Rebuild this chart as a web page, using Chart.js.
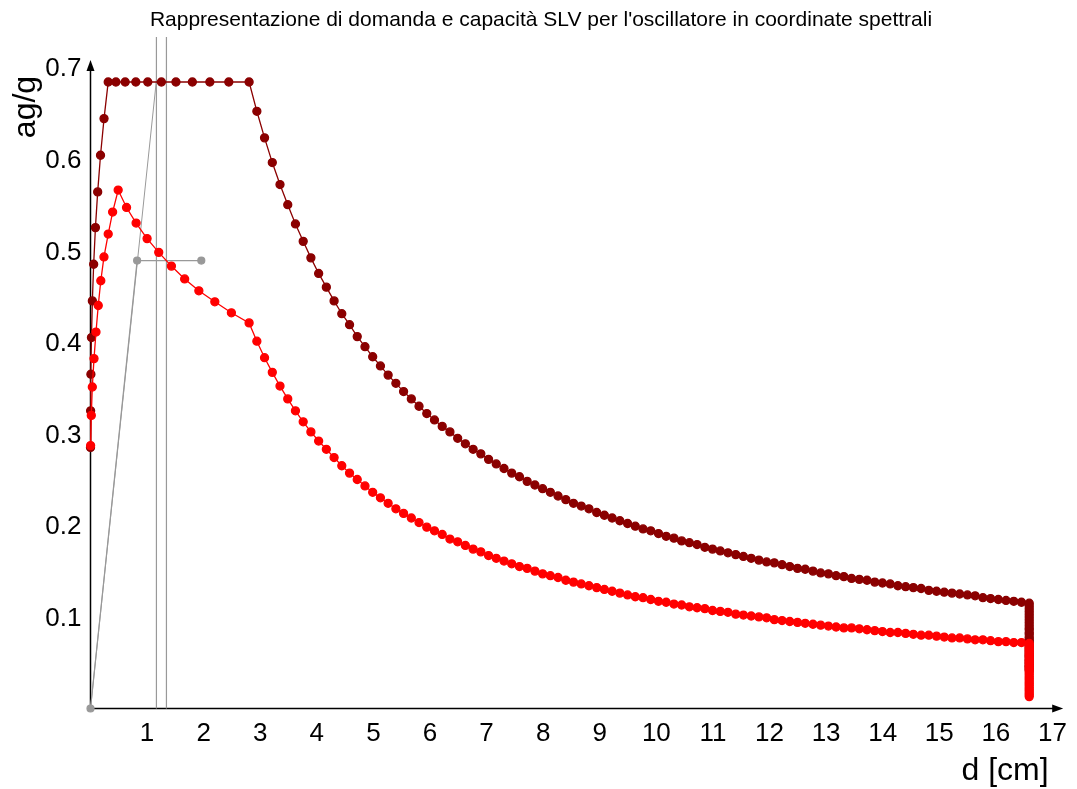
<!DOCTYPE html>
<html>
<head>
<meta charset="utf-8">
<script src="https://cdn.jsdelivr.net/npm/chart.js@4.4.1/dist/chart.umd.min.js"></script>
<style>
  html, body { margin: 0; padding: 0; background: #fff; }
  #wrap { width: 1077px; height: 789px; }
</style>
</head>
<body>
<div id="wrap"><canvas id="spettro" width="1077" height="789"></canvas></div>
<script>
// spettro elastico: ramo iniziale e plateau
var dElasticoIniz = [0.000, 0.002, 0.007, 0.017, 0.033, 0.056, 0.087, 0.127, 0.177, 0.239, 0.313,
  0.449, 0.613, 0.801, 1.012, 1.253, 1.510, 1.800, 2.109, 2.444, 2.803];
var aElasticoIniz = [0.285, 0.325, 0.365, 0.405, 0.445, 0.485, 0.525, 0.564, 0.604, 0.644, 0.684,
  0.684, 0.684, 0.684, 0.684, 0.684, 0.684, 0.684, 0.684, 0.684, 0.684];

// spettro ridotto: ramo iniziale
var dRidottoIniz = [0.002, 0.014, 0.032, 0.062, 0.097, 0.137, 0.182, 0.238, 0.313, 0.391, 0.489,
  0.637, 0.806, 1.000, 1.206, 1.430, 1.664, 1.915, 2.197, 2.490, 2.803];
var aRidottoIniz = [0.287, 0.320, 0.351, 0.382, 0.411, 0.440, 0.467, 0.493, 0.518, 0.542, 0.566,
  0.547, 0.530, 0.513, 0.498, 0.483, 0.469, 0.456, 0.444, 0.432, 0.421];

// tratto a velocita' costante (ascisse comuni ai due spettri)
var dTratto = [2.940, 3.076, 3.213, 3.349, 3.486, 3.622, 3.759, 3.895, 4.032, 4.168,
  4.305, 4.441, 4.578, 4.714, 4.851, 4.987, 5.124, 5.260, 5.397, 5.533,
  5.670, 5.806, 5.943, 6.079, 6.216, 6.352, 6.489, 6.625, 6.762, 6.898,
  7.035, 7.171, 7.308, 7.444, 7.581, 7.717, 7.854, 7.990, 8.127, 8.263,
  8.400, 8.536, 8.673, 8.809, 8.946, 9.082, 9.219, 9.355, 9.492, 9.628,
  9.765, 9.901, 10.038, 10.174, 10.311, 10.447, 10.584, 10.720, 10.857, 10.993,
  11.130, 11.266, 11.403, 11.539, 11.676, 11.812, 11.949, 12.085, 12.222, 12.358,
  12.495, 12.631, 12.768, 12.904, 13.041, 13.177, 13.314, 13.450, 13.587, 13.723,
  13.860, 13.996, 14.133, 14.269, 14.406, 14.542, 14.679, 14.815, 14.952, 15.088,
  15.225, 15.361, 15.498, 15.634, 15.771, 15.907, 16.044, 16.180, 16.317, 16.453,
  16.590];
var aElasticoTratto = [0.652, 0.623, 0.596, 0.572, 0.550, 0.529, 0.510, 0.492, 0.475, 0.460,
  0.445, 0.431, 0.419, 0.406, 0.395, 0.384, 0.374, 0.364, 0.355, 0.346,
  0.338, 0.330, 0.322, 0.315, 0.308, 0.302, 0.295, 0.289, 0.283, 0.278,
  0.272, 0.267, 0.262, 0.257, 0.253, 0.248, 0.244, 0.240, 0.236, 0.232,
  0.228, 0.224, 0.221, 0.218, 0.214, 0.211, 0.208, 0.205, 0.202, 0.199,
  0.196, 0.194, 0.191, 0.188, 0.186, 0.183, 0.181, 0.179, 0.176, 0.174,
  0.172, 0.170, 0.168, 0.166, 0.164, 0.162, 0.160, 0.159, 0.157, 0.155,
  0.153, 0.152, 0.150, 0.148, 0.147, 0.145, 0.144, 0.142, 0.141, 0.140,
  0.138, 0.137, 0.136, 0.134, 0.133, 0.132, 0.131, 0.129, 0.128, 0.127,
  0.126, 0.125, 0.124, 0.123, 0.121, 0.120, 0.119, 0.118, 0.117, 0.116,
  0.115];
var aRidottoTratto = [0.401, 0.383, 0.367, 0.352, 0.338, 0.325, 0.313, 0.302, 0.292, 0.283,
  0.274, 0.265, 0.257, 0.250, 0.243, 0.236, 0.230, 0.224, 0.218, 0.213,
  0.208, 0.203, 0.198, 0.194, 0.190, 0.185, 0.182, 0.178, 0.174, 0.171,
  0.167, 0.164, 0.161, 0.158, 0.155, 0.153, 0.150, 0.147, 0.145, 0.143,
  0.140, 0.138, 0.136, 0.134, 0.132, 0.130, 0.128, 0.126, 0.124, 0.122,
  0.121, 0.119, 0.117, 0.116, 0.114, 0.113, 0.111, 0.110, 0.109, 0.107,
  0.106, 0.105, 0.103, 0.102, 0.101, 0.100, 0.099, 0.097, 0.096, 0.095,
  0.094, 0.093, 0.092, 0.091, 0.090, 0.089, 0.088, 0.088, 0.087, 0.086,
  0.085, 0.084, 0.083, 0.083, 0.082, 0.081, 0.080, 0.080, 0.079, 0.078,
  0.077, 0.077, 0.076, 0.075, 0.075, 0.074, 0.073, 0.073, 0.072, 0.072,
  0.071];

// tratto a spostamento costante
var dVerticale = 16.59;
var aElasticoVert = [0.112, 0.109, 0.106, 0.103, 0.100, 0.097, 0.094, 0.091, 0.088, 0.086,
  0.083, 0.081, 0.078, 0.076, 0.074, 0.072, 0.070, 0.068, 0.066, 0.064,
  0.062, 0.060, 0.058, 0.057, 0.055, 0.053, 0.052, 0.050, 0.049, 0.047,
  0.046, 0.045, 0.043, 0.042];
var aRidottoVert = [0.069, 0.067, 0.065, 0.063, 0.061, 0.059, 0.057, 0.055, 0.053, 0.051,
  0.049, 0.047, 0.045, 0.043, 0.041, 0.039, 0.037, 0.035, 0.033, 0.031,
  0.029, 0.027, 0.025, 0.023, 0.021, 0.019, 0.017, 0.015, 0.013];

// oscillatore bilineare equivalente
var bilineareD = [0, 0.824, 1.958];
var bilineareA = [0, 0.489, 0.489];
var rettaElasticaD = [0, 1.165];
var rettaElasticaA = [0, 0.686];
var spostamentiDomanda = [1.165, 1.342];

var xTicks = [1, 2, 3, 4, 5, 6, 7, 8, 9, 10, 11, 12, 13, 14, 15, 16, 17];
var yTicks = [0.1, 0.2, 0.3, 0.4, 0.5, 0.6, 0.7];

var X_MAX = 17.2, Y_MAX = 0.733;
var FONT = "'Liberation Sans', Arial, Helvetica, sans-serif";

function punti(dd, aa) {
  return dd.map(function (d, i) { return { x: d, y: aa[i] }; });
}

function spettro(dIniz, aIniz, aTratto, aVert) {
  var p = punti(dIniz, aIniz).concat(punti(dTratto, aTratto));
  aVert.forEach(function (a) { p.push({ x: dVerticale, y: a }); });
  return p;
}

var datasets = [
  {
    data: spettro(dRidottoIniz, aRidottoIniz, aRidottoTratto, aRidottoVert),
    borderColor: '#ff0000', backgroundColor: '#ff0000',
    borderWidth: 1.3, pointRadius: 4, showLine: true, clip: false
  },
  {
    data: spettro(dElasticoIniz, aElasticoIniz, aElasticoTratto, aElasticoVert),
    borderColor: '#8b0000', backgroundColor: '#8b0000',
    borderWidth: 1.3, pointRadius: 4, showLine: true, clip: false
  },
  {
    data: punti(bilineareD, bilineareA),
    borderColor: '#999999', backgroundColor: '#999999',
    borderWidth: 1.2, pointRadius: 3.5, showLine: true, clip: false
  },
  {
    data: punti(rettaElasticaD, rettaElasticaA),
    borderColor: '#999999', borderWidth: 1, pointRadius: 0, showLine: true, clip: false
  }
];
spostamentiDomanda.forEach(function (d) {
  datasets.push({
    data: [{ x: d, y: 0 }, { x: d, y: Y_MAX }],
    borderColor: '#999999', borderWidth: 1.2, pointRadius: 0, showLine: true, clip: false
  });
});

// assi con freccia, titolo ed etichette degli assi
var decorazioni = {
  id: 'decorazioni',
  beforeDatasetsDraw: function (chart) {
    var ctx = chart.ctx, area = chart.chartArea;
    var x0 = area.left, y0 = area.bottom;
    var yTip = chart.scales.y.getPixelForValue(0.708);
    var xTip = chart.scales.x.getPixelForValue(17.19);
    ctx.save();
    ctx.strokeStyle = '#000';
    ctx.fillStyle = '#000';
    ctx.lineWidth = 1.5;
    ctx.beginPath();
    ctx.moveTo(x0, y0); ctx.lineTo(x0, yTip + 8);
    ctx.moveTo(x0, y0); ctx.lineTo(xTip - 8, y0);
    ctx.stroke();
    ctx.beginPath();
    ctx.moveTo(x0, yTip); ctx.lineTo(x0 - 4, yTip + 11); ctx.lineTo(x0 + 4, yTip + 11);
    ctx.closePath(); ctx.fill();
    ctx.beginPath();
    ctx.moveTo(xTip, y0); ctx.lineTo(xTip - 11, y0 - 4); ctx.lineTo(xTip - 11, y0 + 4);
    ctx.closePath(); ctx.fill();
    ctx.restore();
  },
  afterDraw: function (chart) {
    var ctx = chart.ctx;
    ctx.save();
    ctx.fillStyle = '#000';
    ctx.textAlign = 'center';
    ctx.textBaseline = 'middle';
    ctx.font = '21px ' + FONT;
    ctx.fillText("Rappresentazione di domanda e capacità SLV per l'oscillatore in coordinate spettrali", 541, 20);
    ctx.font = '32px ' + FONT;
    ctx.fillText('d [cm]', 1005, 771);
    ctx.translate(26, 107);
    ctx.rotate(-Math.PI / 2);
    ctx.fillText('ag/g', 0, 0);
    ctx.restore();
  }
};

new Chart(document.getElementById('spettro'), {
  type: 'scatter',
  data: { datasets: datasets },
  plugins: [decorazioni],
  options: {
    responsive: false,
    animation: false,
    events: [],
    layout: { padding: { left: 0, right: 9.5, top: 37.1, bottom: 0 } },
    plugins: { legend: { display: false }, tooltip: { enabled: false }, title: { display: false } },
    scales: {
      x: {
        type: 'linear', min: 0, max: X_MAX,
        grid: { display: false, drawTicks: false },
        border: { display: false },
        afterBuildTicks: function (s) { s.ticks = xTicks.map(function (v) { return { value: v }; }); },
        afterFit: function (s) { s.height = 80.5; },
        ticks: { color: '#000', padding: 10, maxRotation: 0, autoSkip: false,
          font: { family: FONT, size: 26 } }
      },
      y: {
        type: 'linear', min: 0, max: Y_MAX,
        grid: { display: false, drawTicks: false },
        border: { display: false },
        afterBuildTicks: function (s) { s.ticks = yTicks.map(function (v) { return { value: v }; }); },
        afterFit: function (s) { s.width = 90.5; },
        ticks: { color: '#000', padding: 9, autoSkip: false, labelOffset: 2,
          font: { family: FONT, size: 26 },
          callback: function (v) { return v.toFixed(1); } }
      }
    }
  }
});
</script>
</body>
</html>
